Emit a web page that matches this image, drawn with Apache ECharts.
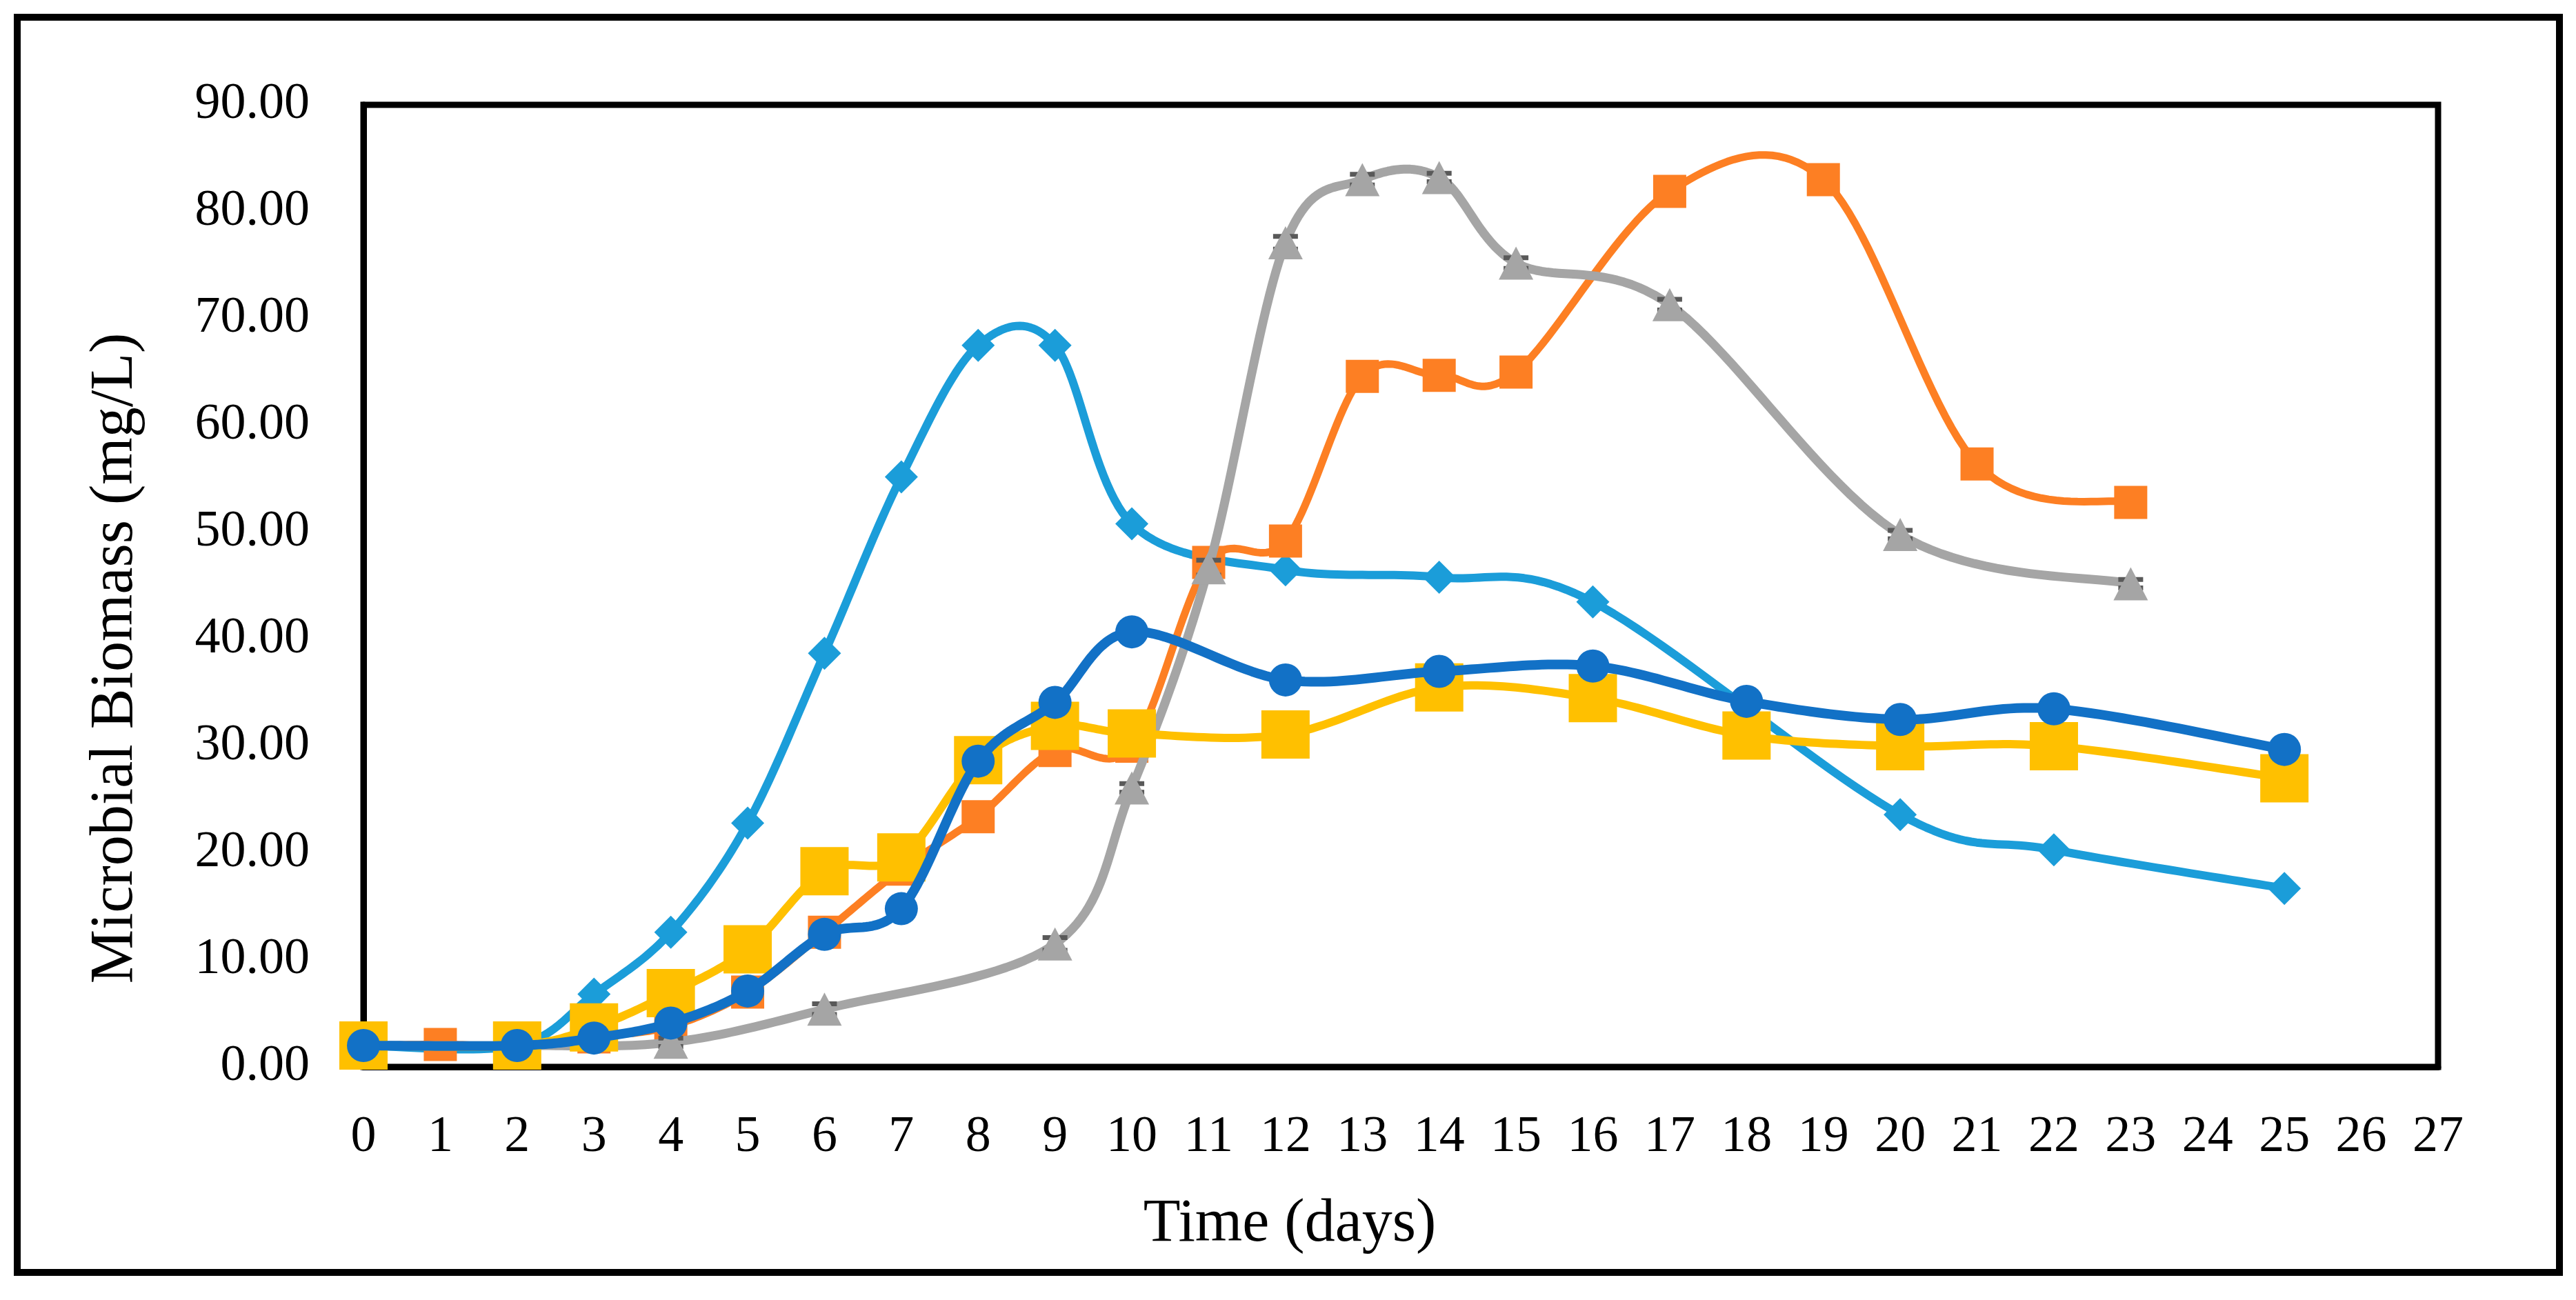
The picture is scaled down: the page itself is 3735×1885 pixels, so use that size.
<!DOCTYPE html>
<html>
<head>
<meta charset="utf-8">
<script src="https://cdn.jsdelivr.net/npm/echarts@6/dist/echarts.min.js"></script>
<style>
html,body{margin:0;padding:0;background:#fff;}
#chart{width:3735px;height:1885px;}
</style>
</head>
<body>
<div id="chart"></div>
<script>
// ---- data ----
var xTicks = [0,1,2,3,4,5,6,7,8,9,10,11,12,13,14,15,16,17,18,19,20,21,22,23,24,25,26,27];
var yTicks = [0,10,20,30,40,50,60,70,80,90];

var lightBlueDays   = [0,2,3,4,5,6,7,8,9,10,12,14,16,20,22,25];
var lightBlueValues = [2.0,2.0,6.8,12.6,22.8,38.7,55.2,67.5,67.5,50.8,46.5,45.8,43.5,23.6,20.3,16.7];

var orangeDays   = [0,1,2,3,4,5,6,7,8,9,10,11,12,13,14,15,17,19,21,23];
var orangeValues = [2.0,2.1,2.0,2.8,3.8,7.0,12.6,18.5,23.4,29.6,30.0,47.2,49.2,64.6,64.7,65.0,81.9,83.0,56.4,52.8];

var grayDays   = [0,2,4,6,9,10,11,12,13,14,15,17,20,23];
var grayValues = [2.0,2.0,2.3,5.4,11.5,26.1,46.7,77.1,83.0,83.2,75.2,71.3,49.8,45.2];
var grayErrors = [0.4,0.4,0.4,0.5,0.6,0.4,0.7,0.6,0.5,0.4,0.5,0.5,0.4,0.4];

var yellowDays   = [0,2,3,4,5,6,7,8,9,10,12,14,16,18,20,22,25];
var yellowValues = [2.0,2.0,3.7,6.9,11.0,18.3,19.6,28.7,31.9,31.2,31.1,35.5,34.5,31.0,30.0,30.0,27.0];

var darkBlueDays   = [0,2,3,4,5,6,7,8,9,10,12,14,16,18,20,22,25];
var darkBlueValues = [2.0,2.0,2.7,4.1,7.1,12.4,14.8,28.6,34.1,40.7,36.2,37.0,37.5,34.2,32.5,33.5,29.7];

function pairs(xs, ys){ return xs.map(function(x,i){ return [x, ys[i]]; }); }

var FONT = 'Liberation Serif';
var chart = echarts.init(document.getElementById('chart'), null, {renderer:'canvas'});

// Excel-like smoothed curve (Catmull-Rom -> cubic Bezier, tension 1/6) on pixel coords from the axes
function smoothPoints(px){
  var out = [px[0].slice()];
  var N = 24;
  for (var i = 0; i < px.length - 1; i++){
    var p0 = px[i-1] || px[i], p1 = px[i], p2 = px[i+1], p3 = px[i+2] || px[i+1];
    var c1 = [p1[0] + (p2[0]-p0[0])/6, p1[1] + (p2[1]-p0[1])/6];
    var c2 = [p2[0] - (p3[0]-p1[0])/6, p2[1] - (p3[1]-p1[1])/6];
    for (var k = 1; k <= N; k++){
      var t = k / N, u = 1 - t;
      out.push([
        u*u*u*p1[0] + 3*u*u*t*c1[0] + 3*u*t*t*c2[0] + t*t*t*p2[0],
        u*u*u*p1[1] + 3*u*u*t*c1[1] + 3*u*t*t*c2[1] + t*t*t*p2[1]
      ]);
    }
  }
  return out;
}

function curveSeries(xs, ys, color, width, z){
  return {
    type: 'custom', z: z, silent: true, animation: false, clip: false,
    data: [[xs[0], ys[0]]],
    encode: {x: 0, y: 1},
    renderItem: function(params, api){
      var px = xs.map(function(x, i){ return api.coord([x, ys[i]]); });
      return {
        type: 'polyline',
        shape: {points: smoothPoints(px)},
        style: {fill: null, stroke: color, lineWidth: width, lineJoin: 'round', lineCap: 'butt'}
      };
    }
  };
}

function markerSeries(name, xs, ys, color, symbol, size, z){
  return {
    name: name, type: 'line',
    data: pairs(xs, ys),
    symbol: symbol, symbolSize: size, showSymbol: true,
    lineStyle: {width: 0, opacity: 0},
    itemStyle: {color: color, borderWidth: 0},
    z: z, clip: false, animation: false
  };
}

function errorBarSeries(xs, ys, es, color, z){
  return {
    type: 'custom', z: z, silent: true, animation: false, clip: false,
    data: xs.map(function(x, i){ return [x, ys[i], es[i]]; }),
    encode: {x: 0, y: 1},
    renderItem: function(params, api){
      var x = api.value(0), y = api.value(1), e = api.value(2);
      var hi = api.coord([x, y + e]), lo = api.coord([x, y - e]);
      var hw = 18;
      var st = {stroke: color, lineWidth: 7};
      return {type: 'group', children: [
        {type: 'line', shape: {x1: hi[0], y1: hi[1], x2: lo[0], y2: lo[1]}, style: st},
        {type: 'line', shape: {x1: hi[0]-hw, y1: hi[1], x2: hi[0]+hw, y2: hi[1]}, style: st},
        {type: 'line', shape: {x1: lo[0]-hw, y1: lo[1], x2: lo[0]+hw, y2: lo[1]}, style: st}
      ]};
    }
  };
}

chart.setOption({
  backgroundColor: '#ffffff',
  animation: false,
  grid: {left: 527, right: 200, top: 152, bottom: 338, show: true, borderColor: '#000', borderWidth: 9, backgroundColor: 'transparent'},
  xAxis: {
    type: 'value', min: 0, max: 27, interval: 1,
    name: 'Time (days)', nameLocation: 'middle', nameGap: 185,
    nameTextStyle: {fontFamily: FONT, fontSize: 88, color: '#000', padding: [0, 322, 0, 0]},
    axisLine: {show: true, lineStyle: {color: '#000', width: 9}},
    axisTick: {show: false},
    splitLine: {show: false},
    axisLabel: {fontFamily: FONT, fontSize: 74, color: '#000', margin: 66,
      formatter: function(v){ return xTicks.indexOf(v) >= 0 ? String(v) : ''; }}
  },
  yAxis: {
    type: 'value', min: 0, max: 90, interval: 10,
    name: 'Microbial Biomass (mg/L)', nameLocation: 'middle', nameGap: 315, nameRotate: 90,
    nameTextStyle: {fontFamily: FONT, fontSize: 88, color: '#000', padding: [0, 210, 0, 0]},
    axisLine: {show: true, lineStyle: {color: '#000', width: 9}},
    axisTick: {show: false},
    splitLine: {show: false},
    axisLabel: {fontFamily: FONT, fontSize: 74, color: '#000', margin: 78,
      formatter: function(v){ return yTicks.indexOf(v) >= 0 ? v.toFixed(2) : ''; }}
  },
  graphic: [{
    type: 'rect', shape: {x: 25, y: 25, width: 3686, height: 1820},
    style: {fill: 'none', stroke: '#000', lineWidth: 10}, z: 100, silent: true
  }],
  series: [
    curveSeries(lightBlueDays, lightBlueValues, '#1B9DD9', 12, 2),
    markerSeries('Series 1', lightBlueDays, lightBlueValues, '#1B9DD9', 'diamond', 48, 3),
    curveSeries(orangeDays, orangeValues, '#FD7F23', 11, 4),
    markerSeries('Series 2', orangeDays, orangeValues, '#FD7F23', 'rect', 48, 5),
    curveSeries(grayDays, grayValues, '#A5A5A5', 13, 6),
    errorBarSeries(grayDays, grayValues, grayErrors, '#595959', 7),
    markerSeries('Series 3', grayDays, grayValues, '#A5A5A5', 'triangle', [50, 48], 8),
    curveSeries(yellowDays, yellowValues, '#FFC000', 12, 9),
    markerSeries('Series 4', yellowDays, yellowValues, '#FFC000', 'rect', 70, 10),
    curveSeries(darkBlueDays, darkBlueValues, '#1271C6', 14, 11),
    markerSeries('Series 5', darkBlueDays, darkBlueValues, '#1271C6', 'circle', 48, 12)
  ]
});
</script>
</body>
</html>
